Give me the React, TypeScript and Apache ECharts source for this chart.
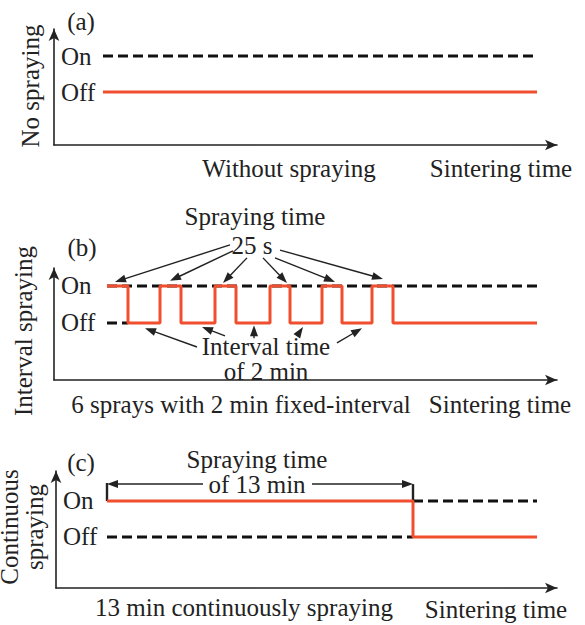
import React, { useEffect, useRef } from 'react';
import * as echarts from 'echarts';

// Spraying states: 0 = Off, 1 = On
const STATE_LABELS = ['Off', 'On'];

// Panel (a): no spraying (time in arbitrary units)
const aStart = 49;
const aEnd = 483;

// Panel (b): 6 sprays with fixed interval
const bSprayStart = [53, 106, 161, 216, 268, 318];
const bSprayEnd = [74, 127, 182, 236, 288, 339];
const bStart = 53;
const bEnd = 483;

// Panel (c): continuous spraying
const cStart = 51;
const cSprayEnd = 357;
const cEnd = 481;

// Annotation arrows, in data units of each panel [x1, y1, x2, y2]
const bSprayArrows = [
  [176, 2.11, 61, 1.11],
  [179, 1.95, 116, 1.14],
  [193, 1.76, 169, 1.08],
  [209, 1.76, 233, 1.08],
  [221, 1.76, 281, 1.11],
  [226, 1.97, 329, 1.19],
];
const bIntervalArrows = [
  [143, -0.65, 91, -0.14],
  [171, -0.35, 148, -0.11],
  [200, -0.41, 200, -0.06],
  [243, -0.35, 249, -0.11],
  [283, -0.54, 308, -0.14],
];
const cArrows = [
  [147, 1.47, 51, 1.47],
  [256, 1.47, 357, 1.47],
];
const cTicks = [
  [51, 1.5, 51, 1.0],
  [357, 1.47, 357, 1.0],
];

const RED = '#f04e2e';
const INK = '#222';
const FONT = "'Liberation Serif', 'Times New Roman', Times, serif";
const FS = 25;

function buildB(): number[][] {
  const pts: number[][] = [];
  bSprayStart.forEach((s, i) => {
    if (i > 0) pts.push([s, 0]);
    pts.push([s, 1]);
    pts.push([bSprayEnd[i], 1]);
    pts.push([bSprayEnd[i], 0]);
  });
  pts.push([bEnd, 0]);
  return pts;
}

export default function App() {
  const ref = useRef<HTMLDivElement>(null);
  useEffect(() => {
    if (!ref.current) return;
    const chart = echarts.init(ref.current, null, { renderer: 'svg' });

    const grids = [
      { left: 54, top: 29, width: 503, height: 116, yMin: -1.472, yMax: 1.75 },
      { left: 54, top: 268, width: 503, height: 112, yMin: -1.541, yMax: 1.486 },
      { left: 56, top: 471, width: 501, height: 117, yMin: -1.417, yMax: 1.833 },
    ];

    const axisLine = {
      show: true,
      onZero: false,
      symbol: ['none', 'arrow'],
      symbolSize: [8, 12],
      lineStyle: { color: INK, width: 1.6 },
    };

    const dashed = (gi: number, data: number[][]) => ({
      type: 'line',
      xAxisIndex: gi,
      yAxisIndex: gi,
      data,
      symbol: 'none',
      silent: true,
      lineStyle: { color: '#111', width: 3, type: [10, 5] },
      z: 2,
    });
    const red = (gi: number, data: number[][]) => ({
      type: 'line',
      xAxisIndex: gi,
      yAxisIndex: gi,
      data,
      symbol: 'none',
      silent: true,
      lineStyle: { color: RED, width: 3 },
      z: 3,
    });

    chart.setOption({
      animation: false,
      backgroundColor: '#fff',
      grid: grids.map((g) => ({ left: g.left, top: g.top, width: g.width, height: g.height })),
      xAxis: grids.map((g, i) => ({
        type: 'value',
        gridIndex: i,
        min: 0,
        max: g.width,
        axisLine,
        axisTick: { show: false },
        axisLabel: { show: false },
        splitLine: { show: false },
      })),
      yAxis: grids.map((g, i) => ({
        type: 'value',
        gridIndex: i,
        min: g.yMin,
        max: g.yMax,
        axisLine,
        axisTick: { show: false },
        splitLine: { show: false },
        axisLabel: {
          show: true,
          inside: true,
          margin: 7,
          customValues: [0, 1],
          formatter: (v: number) => (Math.abs(v - 1) < 1e-6 ? STATE_LABELS[1] : Math.abs(v) < 1e-6 ? STATE_LABELS[0] : ''),
          color: INK,
          fontSize: FS,
          fontFamily: FONT,
        },
      })),
      series: [
        dashed(0, [[aStart, 1], [aEnd, 1]]),
        red(0, [[aStart, 0], [aEnd, 0]]),
        dashed(1, [[bStart, 1], [bEnd, 1]]),
        dashed(1, [[bStart, 0], [bSprayEnd[0], 0]]),
        red(1, buildB()),
        dashed(2, [[cStart, 0], [cSprayEnd, 0]]),
        dashed(2, [[cSprayEnd, 1], [cEnd, 1]]),
        red(2, [[cStart, 1], [cSprayEnd, 1], [cSprayEnd, 0], [cEnd, 0]]),
      ],
    });

    const P = (g: number, x: number, y: number) =>
      chart.convertToPixel({ gridIndex: g } as any, [x, y]) as number[];

    const arrow = (g: number, a: number[], lw = 1.4, head = 11, hw = 4) => {
      const p1 = P(g, a[0], a[1]);
      const p2 = P(g, a[2], a[3]);
      const dx = p2[0] - p1[0];
      const dy = p2[1] - p1[1];
      const L = Math.hypot(dx, dy) || 1;
      const ux = dx / L;
      const uy = dy / L;
      const bx = p2[0] - ux * head;
      const by = p2[1] - uy * head;
      const nx = -uy;
      const ny = ux;
      return [
        {
          type: 'line',
          silent: true,
          shape: { x1: p1[0], y1: p1[1], x2: bx + ux * 1, y2: by + uy * 1 },
          style: { stroke: INK, lineWidth: lw },
        },
        {
          type: 'polygon',
          silent: true,
          shape: { points: [[p2[0], p2[1]], [bx + nx * hw, by + ny * hw], [bx - nx * hw, by - ny * hw]] },
          style: { fill: INK },
        },
      ];
    };

    const tick = (g: number, a: number[]) => {
      const p1 = P(g, a[0], a[1]);
      const p2 = P(g, a[2], a[3]);
      return {
        type: 'line',
        silent: true,
        shape: { x1: p1[0], y1: p1[1], x2: p2[0], y2: p2[1] },
        style: { stroke: INK, lineWidth: 2.4 },
      };
    };

    const text = (t: string, x: number, y: number, rot = 0) => ({
      type: 'text',
      x,
      y,
      rotation: rot,
      silent: true,
      style: {
        text: t,
        font: `${FS}px ${FONT}`,
        fill: INK,
        textAlign: 'center',
        textVerticalAlign: 'middle',
        align: 'center',
        verticalAlign: 'middle',
      },
    });

    const graphics: any[] = [
      text('(a)', 81, 21),
      text('(b)', 82, 247),
      text('(c)', 81, 462),
      text('No spraying', 30, 86, Math.PI / 2),
      text('Interval spraying', 23, 331, Math.PI / 2),
      text('Continuous', 9, 527, Math.PI / 2),
      text('spraying', 34, 527, Math.PI / 2),
      text('Without spraying', 289, 168),
      text('Sintering time', 501, 168),
      text('Spraying time', 255, 216),
      text('25 s', 252, 245),
      text('Interval time', 266, 346),
      text('of 2 min', 266, 371),
      text('6 sprays with 2 min fixed-interval', 241, 404),
      text('Sintering time', 500, 404),
      text('Spraying time', 257, 459),
      text('of 13 min', 257, 484),
      text('13 min continuously spraying', 244, 607),
      text('Sintering time', 496, 609),
    ];
    bSprayArrows.forEach((a) => graphics.push(...arrow(1, a)));
    bIntervalArrows.forEach((a) => graphics.push(...arrow(1, a)));
    cArrows.forEach((a) => graphics.push(...arrow(2, a)));
    cTicks.forEach((a) => graphics.push(tick(2, a)));

    chart.setOption({ graphic: graphics });

    return () => chart.dispose();
  }, []);

  return (
    <div
      ref={ref}
      style={{ position: 'absolute', left: 0, top: 0, width: 585, height: 625 }}
    />
  );
}
